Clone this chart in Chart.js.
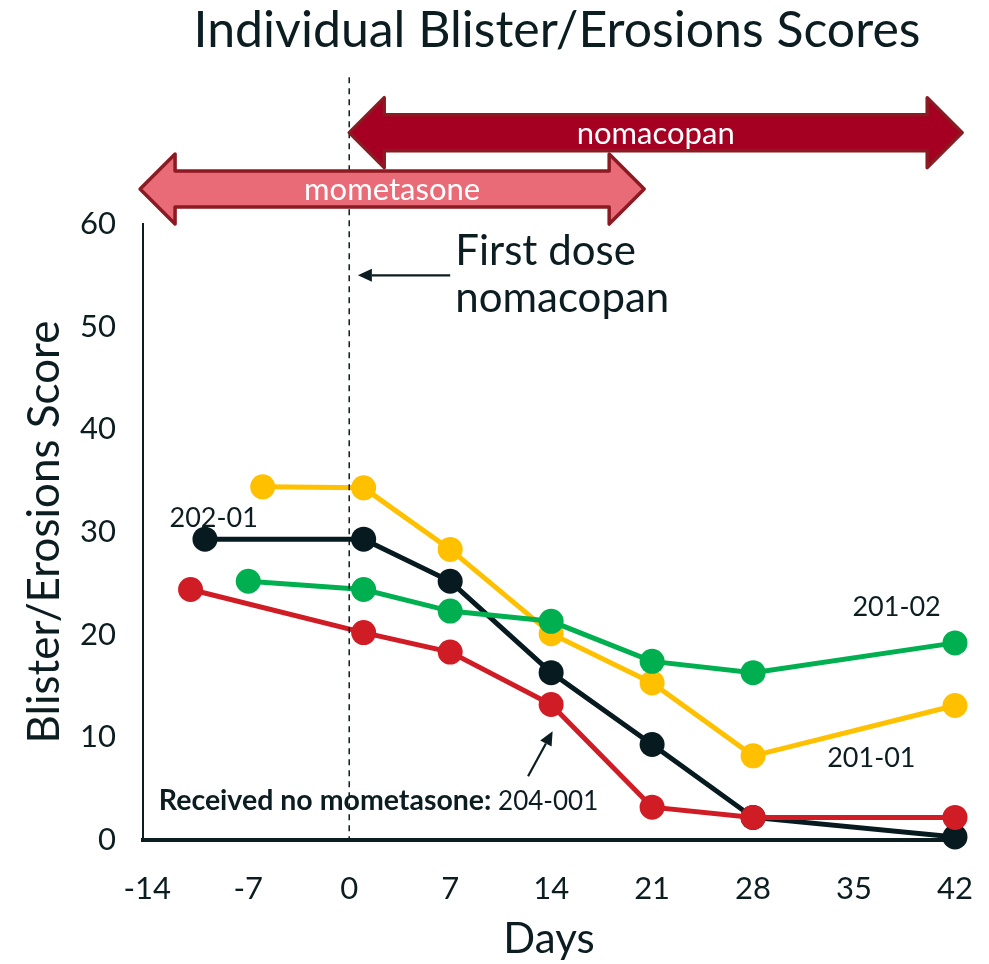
<!DOCTYPE html>
<html>
<head>
<meta charset="utf-8">
<script src="https://cdn.jsdelivr.net/npm/chart.js@4.4.1/dist/chart.umd.min.js"></script>
<style>
  html, body { margin: 0; padding: 0; background: #fff; }
  #wrap { width: 989px; height: 964px; }
</style>
</head>
<body>
<div id="wrap"><canvas id="scoreChart" width="989" height="964"></canvas></div>
<script>
// study days after first nomacopan dose
const visitDays = [1, 7, 14, 21, 28, 42];

// patients, baseline day (before dose) and blister/erosion scores
const patientIds = ["204-001", "201-02", "202-01", "201-01"];
const baselineDays = [-11, -7, -10, -6];
const scores204_001 = [24.4, 20.2, 18.3, 13.2, 3.2, 2.2, 2.2];
const scores201_02 = [25.2, 24.4, 22.3, 21.3, 17.4, 16.3, 19.2];
const scores202_01 = [29.3, 29.3, 25.2, 16.3, 9.3, 2.2, 0.3];
const scores201_01 = [34.4, 34.3, 28.3, 20.1, 15.3, 8.2, 13.1];
const seriesColors = ["#D01C24", "#00B050", "#061A1F", "#FFC000"];

// treatment periods (days)
const treatmentNames = ["nomacopan", "mometasone"];
const treatmentStart = [0, -14.5];
const treatmentEnd = [42.5, 20.45];

// axis ticks
const dayTicks = [-14, -7, 0, 7, 14, 21, 28, 35, 42];
const scoreTicks = [0, 10, 20, 30, 40, 50, 60];

const INK = "#0C1D22";
const FONT = "Lato";

const allScores = [scores204_001, scores201_02, scores202_01, scores201_01];
const datasets = patientIds.map((id, i) => {
  const days = [baselineDays[i], ...visitDays];
  return {
    label: id,
    data: days.map((d, j) => ({ x: d, y: allScores[i][j] })),
    borderColor: seriesColors[i],
    backgroundColor: seriesColors[i],
    pointBackgroundColor: seriesColors[i],
    pointBorderWidth: 0,
    borderWidth: 5,
    pointRadius: 12.5,
    tension: 0,
    clip: false,
  };
});

function blockArrow(ctx, x0, x1, yc, fill, label) {
  const bodyH = 18, headH = 35, headL = 35;
  ctx.save();
  ctx.beginPath();
  ctx.moveTo(x0, yc);
  ctx.lineTo(x0 + headL, yc - headH);
  ctx.lineTo(x0 + headL, yc - bodyH);
  ctx.lineTo(x1 - headL, yc - bodyH);
  ctx.lineTo(x1 - headL, yc - headH);
  ctx.lineTo(x1, yc);
  ctx.lineTo(x1 - headL, yc + headH);
  ctx.lineTo(x1 - headL, yc + bodyH);
  ctx.lineTo(x0 + headL, yc + bodyH);
  ctx.lineTo(x0 + headL, yc + headH);
  ctx.closePath();
  ctx.fillStyle = fill;
  ctx.fill();
  ctx.lineJoin = "round";
  ctx.lineWidth = 3.5;
  ctx.strokeStyle = "#8B1A22";
  ctx.stroke();
  ctx.fillStyle = "#fff";
  ctx.font = "31px " + FONT;
  ctx.textAlign = "center";
  ctx.textBaseline = "middle";
  ctx.fillText(label, (x0 + x1) / 2, yc + 1);
  ctx.restore();
}

function lineArrow(ctx, x0, y0, x1, y1) {
  const ang = Math.atan2(y1 - y0, x1 - x0);
  const hl = 14, hw = 6.5;
  ctx.save();
  ctx.strokeStyle = INK;
  ctx.fillStyle = INK;
  ctx.lineWidth = 2.2;
  ctx.beginPath();
  ctx.moveTo(x0, y0);
  ctx.lineTo(x1 - Math.cos(ang) * hl, y1 - Math.sin(ang) * hl);
  ctx.stroke();
  ctx.beginPath();
  ctx.moveTo(x1, y1);
  ctx.lineTo(x1 - Math.cos(ang) * hl - Math.sin(ang) * hw, y1 - Math.sin(ang) * hl + Math.cos(ang) * hw);
  ctx.lineTo(x1 - Math.cos(ang) * hl + Math.sin(ang) * hw, y1 - Math.sin(ang) * hl - Math.cos(ang) * hw);
  ctx.closePath();
  ctx.fill();
  ctx.restore();
}

const overlay = {
  id: "overlay",
  afterDatasetsDraw(chart) {
    const { ctx, scales: { x, y } } = chart;

    // first dose marker
    const x0 = x.getPixelForValue(0);
    ctx.save();
    ctx.strokeStyle = INK;
    ctx.lineWidth = 1.5;
    ctx.setLineDash([6, 5]);
    ctx.beginPath();
    ctx.moveTo(x0, y.getPixelForValue(74.3));
    ctx.lineTo(x0, y.getPixelForValue(0));
    ctx.stroke();
    ctx.restore();

    // treatment arrows
    blockArrow(ctx, x.getPixelForValue(treatmentStart[0]), x.getPixelForValue(treatmentEnd[0]),
      y.getPixelForValue(68.9), "#A50021", treatmentNames[0]);
    blockArrow(ctx, x.getPixelForValue(treatmentStart[1]), x.getPixelForValue(treatmentEnd[1]),
      y.getPixelForValue(63.4), "#E96B77", treatmentNames[1]);

    // title
    ctx.save();
    ctx.fillStyle = INK;
    ctx.textAlign = "center";
    ctx.textBaseline = "middle";
    ctx.font = "50px " + FONT;
    ctx.fillText("Individual Blister/Erosions Scores", 557, 31);

    // first dose label
    ctx.textAlign = "left";
    ctx.textBaseline = "alphabetic";
    ctx.font = "42px " + FONT;
    ctx.fillText("First dose", x.getPixelForValue(7.35), y.getPixelForValue(56.0));
    ctx.fillText("nomacopan", x.getPixelForValue(7.35), y.getPixelForValue(51.4));

    // patient labels
    ctx.textAlign = "center";
    ctx.font = "27px " + FONT;
    ctx.fillText(patientIds[2], x.getPixelForValue(-9.4), y.getPixelForValue(30.5));
    ctx.fillText(patientIds[1], x.getPixelForValue(37.95), y.getPixelForValue(21.8));
    ctx.fillText(patientIds[3], x.getPixelForValue(36.2), y.getPixelForValue(7.1));

    ctx.textAlign = "left";
    ctx.font = "bold 28.5px " + FONT;
    const note = "Received no mometasone:";
    const nx = x.getPixelForValue(-13.2), ny = y.getPixelForValue(2.9);
    ctx.fillText(note, nx, ny);
    const w = ctx.measureText(note).width;
    ctx.font = "26px " + FONT;
    ctx.fillText(" " + patientIds[0], nx + w, ny);
    ctx.restore();

    lineArrow(ctx, x.getPixelForValue(7.0), y.getPixelForValue(55.0), x.getPixelForValue(0.6), y.getPixelForValue(55.0));
    lineArrow(ctx, x.getPixelForValue(12.4), y.getPixelForValue(6.2), x.getPixelForValue(14.1), y.getPixelForValue(10.6));
  }
};

Chart.defaults.font.family = FONT;
Chart.defaults.color = INK;

new Chart(document.getElementById("scoreChart"), {
  type: "line",
  data: { datasets },
  options: {
    responsive: false,
    animation: false,
    layout: { padding: { top: 224, right: 34, left: 0, bottom: 0 } },
    plugins: {
      legend: { display: false },
      tooltip: { enabled: false },
    },
    scales: {
      x: {
        type: "linear",
        min: -14.3,
        max: dayTicks[dayTicks.length - 1],
        afterBuildTicks: (axis) => { axis.ticks = dayTicks.map((v) => ({ value: v })); },
        grid: { display: false, drawTicks: true, tickLength: 27 },
        border: { display: true, color: INK, width: 4 },
        ticks: { font: { size: 31 }, padding: 3, color: INK },
        title: { display: true, text: "Days", font: { size: 42 }, padding: { top: 4.4, bottom: -1 }, color: INK },
      },
      y: {
        min: scoreTicks[0],
        max: scoreTicks[scoreTicks.length - 1],
        afterBuildTicks: (axis) => { axis.ticks = scoreTicks.map((v) => ({ value: v })); },
        grid: { display: false, drawTicks: true, tickLength: 24 },
        border: { display: true, color: INK, width: 2 },
        ticks: { font: { size: 31 }, padding: 3, color: INK },
        title: { display: true, text: "Blister/Erosions Score", font: { size: 44 }, padding: { top: 18.6, bottom: 5.6 }, color: INK },
      },
    },
  },
  plugins: [overlay],
});
</script>
</body>
</html>
